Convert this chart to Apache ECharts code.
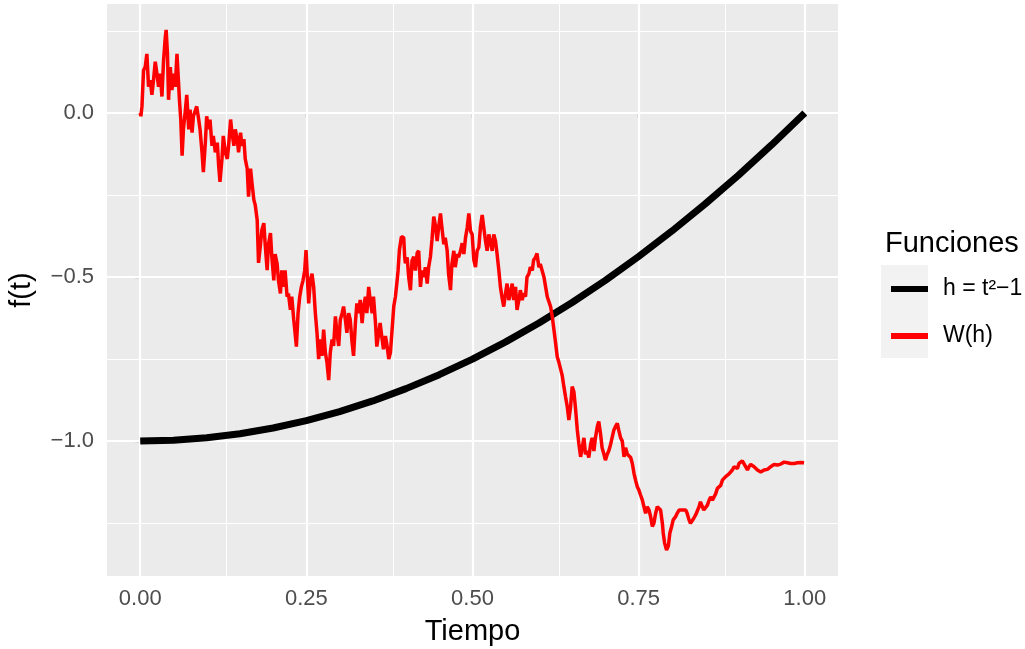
<!DOCTYPE html>
<html><head><meta charset="utf-8">
<script src="https://cdn.jsdelivr.net/npm/echarts@6/dist/echarts.min.js"></script>
<style>html,body{margin:0;padding:0;background:#fff}#c{width:1025px;height:649px}</style>
</head><body><div id="c"></div>
<script>
// ---- tick values ----
const xTicks = [0, 0.25, 0.5, 0.75, 1];
const xMinor = [0.125, 0.375, 0.625, 0.875];
const yTicks = [-1, -0.5, 0];
const yMinor = [-1.25, -0.75, -0.25, 0.25];

// ---- series names ----
const seriesNames = ['h = t\u00b2\u22121', 'W(h)'];

// ---- h = t^2 - 1 (read values) ----
const hTime  = [0, 0.05, 0.1, 0.15, 0.2, 0.25, 0.3, 0.35, 0.4, 0.45, 0.5, 0.55, 0.6, 0.65, 0.7, 0.75, 0.8, 0.85, 0.9, 0.95, 1];
const hValue = [-1, -0.9975, -0.99, -0.9775, -0.96, -0.9375, -0.91, -0.8775, -0.84, -0.7975, -0.75, -0.6975, -0.64, -0.5775, -0.51, -0.4375, -0.36, -0.2775, -0.19, -0.0975, 0];

// ---- W(h) path, [t, value] ----
const wPath = [
[0,0],[0.001,-0.01],[0.0026,0.02],[0.005,0.13],[0.0075,0.14],[0.010,0.18],[0.0125,0.08],[0.015,0.10],
[0.0176,0.055],[0.020,0.10],[0.0226,0.156],[0.0251,0.12],[0.0276,0.08],[0.0301,0.12],[0.0327,0.05],
[0.0351,0.16],[0.0377,0.23],[0.039,0.253],[0.041,0.18],[0.0426,0.04],[0.0452,0.14],[0.0477,0.07],
[0.0502,0.12],[0.0527,0.08],[0.0553,0.18],[0.0577,0.09],[0.059,0.04],[0.061,-0.02],[0.063,-0.13],
[0.065,-0.05],[0.068,0.01],[0.070,0.055],[0.073,-0.05],[0.075,0.01],[0.078,-0.06],[0.080,-0.01],
[0.085,0.02],[0.088,-0.02],[0.090,-0.05],[0.093,-0.12],[0.095,-0.18],[0.098,-0.09],[0.100,-0.01],
[0.103,-0.05],[0.105,-0.02],[0.108,-0.10],[0.110,-0.07],[0.113,-0.12],[0.116,-0.09],[0.118,-0.16],
[0.120,-0.21],[0.123,-0.14],[0.125,-0.07],[0.128,-0.12],[0.131,-0.14],[0.133,-0.10],[0.136,-0.02],
[0.138,-0.06],[0.141,-0.10],[0.143,-0.05],[0.146,-0.08],[0.148,-0.12],[0.151,-0.06],[0.153,-0.10],
[0.156,-0.08],[0.158,-0.14],[0.161,-0.17],[0.163,-0.255],[0.166,-0.17],[0.168,-0.21],[0.171,-0.265],
[0.173,-0.28],[0.176,-0.326],[0.178,-0.457],[0.181,-0.40],[0.183,-0.357],[0.186,-0.336],[0.188,-0.40],
[0.191,-0.479],[0.193,-0.40],[0.196,-0.366],[0.198,-0.438],[0.201,-0.51],[0.203,-0.43],[0.206,-0.46],
[0.208,-0.51],[0.211,-0.55],[0.213,-0.48],[0.216,-0.53],[0.218,-0.48],[0.221,-0.56],[0.223,-0.55],
[0.226,-0.60],[0.228,-0.56],[0.231,-0.63],[0.233,-0.67],[0.235,-0.712],[0.2375,-0.61],[0.240,-0.56],
[0.2425,-0.53],[0.245,-0.51],[0.2475,-0.48],[0.2495,-0.418],[0.2515,-0.50],[0.2535,-0.58],[0.256,-0.51],
[0.2585,-0.49],[0.261,-0.53],[0.2635,-0.61],[0.266,-0.67],[0.2685,-0.75],[0.271,-0.69],[0.2735,-0.74],
[0.276,-0.66],[0.2786,-0.73],[0.281,-0.76],[0.2836,-0.814],[0.286,-0.73],[0.2887,-0.69],[0.291,-0.71],
[0.2937,-0.62],[0.296,-0.67],[0.2987,-0.71],[0.301,-0.631],[0.3038,-0.61],[0.306,-0.59],[0.3087,-0.63],
[0.311,-0.67],[0.3137,-0.61],[0.316,-0.63],[0.3188,-0.70],[0.321,-0.74],[0.3238,-0.64],[0.326,-0.58],
[0.3288,-0.61],[0.331,-0.57],[0.3339,-0.64],[0.336,-0.59],[0.3389,-0.56],[0.341,-0.61],[0.3438,-0.53],
[0.346,-0.57],[0.349,-0.61],[0.351,-0.56],[0.354,-0.64],[0.356,-0.712],[0.359,-0.67],[0.361,-0.64],
[0.364,-0.69],[0.366,-0.72],[0.369,-0.68],[0.3715,-0.71],[0.374,-0.75],[0.3765,-0.73],[0.379,-0.66],
[0.3815,-0.59],[0.384,-0.56],[0.3866,-0.51],[0.388,-0.48],[0.390,-0.418],[0.393,-0.377],[0.3965,-0.38],
[0.398,-0.44],[0.399,-0.458],[0.4017,-0.44],[0.404,-0.50],[0.4066,-0.54],[0.409,-0.45],[0.4116,-0.438],
[0.414,-0.48],[0.4167,-0.427],[0.419,-0.42],[0.4217,-0.53],[0.424,-0.48],[0.4267,-0.50],[0.429,-0.47],
[0.4318,-0.52],[0.434,-0.47],[0.4367,-0.438],[0.439,-0.387],[0.4417,-0.316],[0.444,-0.34],[0.4468,-0.39],
[0.449,-0.35],[0.4518,-0.306],[0.454,-0.35],[0.4568,-0.40],[0.459,-0.38],[0.4619,-0.42],[0.464,-0.49],
[0.4669,-0.54],[0.469,-0.46],[0.4719,-0.42],[0.474,-0.47],[0.477,-0.43],[0.479,-0.44],[0.482,-0.42],
[0.4845,-0.397],[0.487,-0.43],[0.4895,-0.38],[0.492,-0.35],[0.4945,-0.306],[0.497,-0.36],[0.4995,-0.37],
[0.502,-0.448],[0.5045,-0.47],[0.507,-0.42],[0.5095,-0.41],[0.512,-0.347],[0.5146,-0.311],[0.517,-0.35],
[0.5196,-0.39],[0.522,-0.42],[0.5246,-0.37],[0.527,-0.37],[0.5297,-0.42],[0.532,-0.37],[0.5346,-0.39],
[0.537,-0.43],[0.5396,-0.479],[0.542,-0.53],[0.5447,-0.565],[0.547,-0.59],[0.5497,-0.55],[0.552,-0.52],
[0.5547,-0.57],[0.557,-0.55],[0.5598,-0.52],[0.562,-0.57],[0.5648,-0.53],[0.567,-0.60],[0.5698,-0.57],
[0.572,-0.54],[0.5748,-0.57],[0.577,-0.55],[0.5798,-0.56],[0.582,-0.50],[0.5849,-0.49],[0.587,-0.47],
[0.5899,-0.48],[0.592,-0.448],[0.5949,-0.44],[0.597,-0.428],[0.5999,-0.47],[0.602,-0.46],[0.6075,-0.50],
[0.610,-0.53],[0.6125,-0.56],[0.6175,-0.59],[0.620,-0.62],[0.6225,-0.66],[0.625,-0.70],[0.6275,-0.743],
[0.630,-0.76],[0.6325,-0.78],[0.635,-0.80],[0.6375,-0.834],[0.640,-0.865],[0.6426,-0.895],[0.645,-0.936],
[0.6476,-0.895],[0.650,-0.834],[0.6526,-0.85],[0.655,-0.90],[0.6577,-0.966],[0.660,-1.007],[0.6627,-1.048],
[0.665,-1.02],[0.6677,-0.99],[0.670,-1.04],[0.6727,-1.03],[0.675,-1.05],[0.6777,-1.01],[0.680,-0.99],
[0.6827,-1.03],[0.685,-0.99],[0.6878,-0.956],[0.690,-0.94],[0.6928,-0.98],[0.695,-1.02],[0.6978,-1.04],
[0.700,-1.058],[0.7028,-1.04],[0.705,-1.03],[0.7078,-1.01],[0.710,-0.99],[0.7128,-0.966],[0.715,-0.956],
[0.7179,-0.946],[0.720,-0.966],[0.7229,-0.99],[0.7254,-1.00],[0.728,-1.048],[0.7304,-1.02],[0.733,-1.04],
[0.7354,-1.04],[0.738,-1.05],[0.7405,-1.068],[0.743,-1.098],[0.7455,-1.12],[0.748,-1.139],[0.7505,-1.15],
[0.753,-1.165],[0.7556,-1.18],[0.758,-1.20],[0.7605,-1.22],[0.763,-1.20],[0.7656,-1.21],[0.768,-1.23],
[0.7706,-1.26],[0.773,-1.25],[0.7756,-1.22],[0.778,-1.20],[0.7806,-1.195],[0.783,-1.21],[0.7857,-1.25],
[0.787,-1.28],[0.789,-1.31],[0.792,-1.332],[0.7947,-1.32],[0.797,-1.28],[0.7997,-1.26],[0.802,-1.24],
[0.8057,-1.23],[0.808,-1.22],[0.8108,-1.21],[0.813,-1.205],[0.8158,-1.21],[0.818,-1.205],[0.8208,-1.21],
[0.823,-1.22],[0.8258,-1.24],[0.828,-1.25],[0.8309,-1.245],[0.833,-1.235],[0.8358,-1.225],[0.838,-1.22],
[0.8409,-1.20],[0.843,-1.185],[0.846,-1.19],[0.848,-1.21],[0.851,-1.205],[0.8535,-1.195],[0.856,-1.18],
[0.8584,-1.17],[0.861,-1.18],[0.8635,-1.175],[0.866,-1.16],[0.8685,-1.144],[0.871,-1.15],[0.8735,-1.135],
[0.876,-1.119],[0.8785,-1.114],[0.881,-1.108],[0.8836,-1.106],[0.886,-1.10],[0.8886,-1.094],[0.891,-1.088],
[0.8936,-1.078],[0.896,-1.073],[0.8987,-1.083],[0.901,-1.068],[0.9036,-1.066],[0.906,-1.06],[0.9087,-1.063],
[0.911,-1.078],[0.9137,-1.088],[0.916,-1.078],[0.9187,-1.071],[0.921,-1.073],[0.9237,-1.078],[0.926,-1.083],
[0.9288,-1.088],[0.931,-1.09],[0.9337,-1.094],[0.936,-1.092],[0.9388,-1.088],[0.941,-1.09],[0.9438,-1.086],
[0.946,-1.083],[0.9488,-1.078],[0.951,-1.073],[0.9538,-1.071],[0.956,-1.074],[0.9589,-1.073],[0.961,-1.076],
[0.9639,-1.07],[0.966,-1.066],[0.9689,-1.064],[0.971,-1.064],[0.974,-1.066],[0.976,-1.065],[0.979,-1.068],
[0.981,-1.067],[0.984,-1.068],[0.9865,-1.068],[0.989,-1.066],[0.9915,-1.064],[0.994,-1.065],[0.9965,-1.065],
[0.999,-1.066],[1,-1.066]
];

const FONT = "'Liberation Sans', Arial, sans-serif";
const hData = hTime.map((t, i) => [t, hValue[i]]);

function gridLines(vals, axisKey, width) {
  return vals.map(v => ({ [axisKey]: v, lineStyle: { color: '#FFFFFF', width: width, type: 'solid' } }));
}
const minus = s => s.replace('-', '\u2212');

const chart = echarts.init(document.getElementById('c'), null, { renderer: 'canvas' });
chart.setOption({
  animation: false,
  backgroundColor: '#FFFFFF',
  textStyle: { fontFamily: FONT },
  grid: { left: 107, right: 187, top: 4, bottom: 73, show: true, backgroundColor: '#EBEBEB', borderWidth: 0,
          containLabel: false, outerBoundsMode: 'none' },
  title: { text: 'Funciones', left: 880, top: 224, textStyle: { fontFamily: FONT, fontSize: 29, fontWeight: 'normal', color: '#000' } },
  graphic: [{ type: 'rect', left: 881, top: 265, z: 0, shape: { width: 47, height: 93 }, style: { fill: '#F2F2F2' } }],
  legend: {
    orient: 'vertical', left: 886, top: 272, itemGap: 23, itemWidth: 37, itemHeight: 6,
    icon: 'rect', data: seriesNames,
    textStyle: { fontFamily: FONT, fontSize: 23, color: '#000', lineHeight: 24, padding: [0, 0, 0, 10] }
  },
  xAxis: {
    type: 'value', min: -0.05, max: 1.05,
    name: 'Tiempo', nameLocation: 'middle', nameGap: 41,
    nameTextStyle: { fontFamily: FONT, fontSize: 29, color: '#000' },
    axisLine: { show: false },
    axisTick: { show: true, customValues: xTicks, length: 5, lineStyle: { color: '#333333', width: 1.2 } },
    axisLabel: { customValues: xTicks, formatter: v => v.toFixed(2), color: '#4D4D4D', fontSize: 22, margin: 12, fontFamily: FONT },
    splitLine: { show: false }
  },
  yAxis: {
    type: 'value', min: -1.411, max: 0.332,
    name: 'f(t)', nameLocation: 'middle', nameGap: 71, nameRotate: 90,
    nameTextStyle: { fontFamily: FONT, fontSize: 29, color: '#000' },
    axisLine: { show: false },
    axisTick: { show: true, customValues: yTicks, length: 5, lineStyle: { color: '#333333', width: 1.2 } },
    axisLabel: { customValues: yTicks, formatter: v => minus(v.toFixed(1)), color: '#4D4D4D', fontSize: 22, margin: 13, fontFamily: FONT },
    splitLine: { show: false }
  },
  series: [
    {
      type: 'line', name: '_grid', data: [], z: 1, silent: true,
      markLine: {
        silent: true, z: 1, symbol: ['none', 'none'], label: { show: false }, animation: false,
        emphasis: { disabled: true },
        data: [].concat(
          gridLines(xMinor, 'xAxis', 1), gridLines(yMinor, 'yAxis', 1),
          gridLines(xTicks, 'xAxis', 2.2), gridLines(yTicks, 'yAxis', 2.2)
        )
      }
    },
    {
      type: 'line', name: seriesNames[0], data: hData, showSymbol: false, z: 3,
      color: '#000000', lineStyle: { color: '#000000', width: 7 }
    },
    {
      type: 'line', name: seriesNames[1], data: wPath, showSymbol: false, z: 4,
      color: '#FF0000', lineStyle: { color: '#FF0000', width: 3.5 }
    }
  ]
});
</script></body></html>
